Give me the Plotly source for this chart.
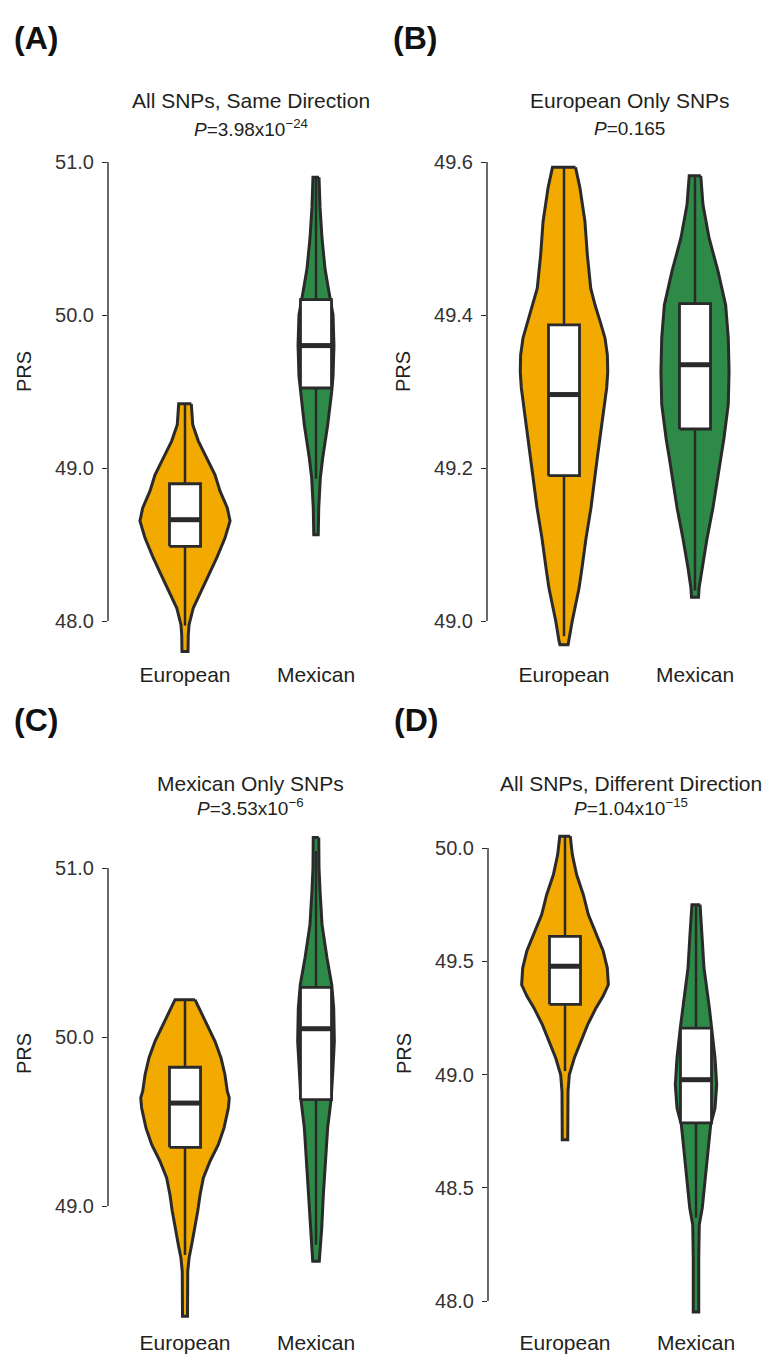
import plotly.graph_objects as go

# ---------------- data ----------------
groups = ["European", "Mexican"]

panel_letters = ["(A)", "(B)", "(C)", "(D)"]
panel_titles = ["All SNPs, Same Direction", "European Only SNPs",
                "Mexican Only SNPs", "All SNPs, Different Direction"]
panel_pvalues = ["<i>P</i>=3.98x10<sup>−24</sup>", "<i>P</i>=0.165",
                 "<i>P</i>=3.53x10<sup>−6</sup>", "<i>P</i>=1.04x10<sup>−15</sup>"]
panel_ticks = [[48.0, 49.0, 50.0, 51.0],
               [49.0, 49.2, 49.4, 49.6],
               [49.0, 50.0, 51.0],
               [48.0, 48.5, 49.0, 49.5, 50.0]]

# violin outlines: PRS level and half-width (category units)
a_eur_y = [49.42, 49.283, 49.176, 49.065, 48.956, 48.85, 48.739, 48.654, 48.542, 48.412, 48.303, 48.196, 48.085, 47.976, 47.91, 47.80]
a_eur_w = [0.048, 0.059, 0.102, 0.166, 0.229, 0.267, 0.323, 0.344, 0.305, 0.242, 0.183, 0.127, 0.063, 0.031, 0.025, 0.023]
a_mex_y = [50.90, 50.70, 50.50, 50.30, 50.15, 50.00, 49.80, 49.60, 49.50, 49.28, 49.065, 48.935, 48.74, 48.564]
a_mex_w = [0.023, 0.031, 0.046, 0.069, 0.099, 0.130, 0.137, 0.130, 0.120, 0.089, 0.051, 0.033, 0.021, 0.017]

b_eur_y = [49.593, 49.566, 49.522, 49.479, 49.435, 49.413, 49.392, 49.370, 49.348, 49.326, 49.305, 49.283, 49.239, 49.213, 49.148, 49.108, 49.069, 49.043, 49.0, 48.974, 48.969]
b_eur_w = [0.088, 0.122, 0.160, 0.178, 0.204, 0.237, 0.275, 0.313, 0.331, 0.334, 0.326, 0.308, 0.275, 0.254, 0.206, 0.168, 0.137, 0.115, 0.063, 0.038, 0.031]
b_mex_y = [49.582, 49.544, 49.501, 49.457, 49.413, 49.370, 49.326, 49.283, 49.239, 49.213, 49.148, 49.108, 49.069, 49.043, 49.031]
b_mex_w = [0.044, 0.061, 0.107, 0.176, 0.234, 0.254, 0.260, 0.254, 0.221, 0.196, 0.137, 0.092, 0.053, 0.031, 0.027]

c_eur_y = [50.221, 50.073, 49.975, 49.876, 49.777, 49.679, 49.639, 49.580, 49.462, 49.363, 49.265, 49.166, 49.067, 48.969, 48.870, 48.771, 48.692, 48.614, 48.347]
c_eur_w = [0.076, 0.166, 0.229, 0.275, 0.305, 0.323, 0.338, 0.331, 0.298, 0.254, 0.191, 0.140, 0.115, 0.097, 0.076, 0.051, 0.031, 0.021, 0.019]
c_mex_y = [51.18, 51.0, 50.862, 50.665, 50.467, 50.309, 50.172, 49.975, 49.777, 49.629, 49.462, 49.265, 49.067, 48.870, 48.771, 48.673]
c_mex_w = [0.021, 0.023, 0.031, 0.046, 0.084, 0.120, 0.135, 0.140, 0.127, 0.115, 0.089, 0.071, 0.056, 0.044, 0.033, 0.025]

d_eur_y = [50.052, 49.970, 49.882, 49.794, 49.706, 49.617, 49.544, 49.470, 49.396, 49.345, 49.294, 49.220, 49.147, 49.073, 48.999, 48.926, 48.712]
d_eur_w = [0.040, 0.056, 0.089, 0.140, 0.178, 0.242, 0.292, 0.323, 0.331, 0.290, 0.237, 0.173, 0.122, 0.071, 0.033, 0.023, 0.021]
d_mex_y = [49.750, 49.617, 49.470, 49.294, 49.205, 49.073, 48.955, 48.852, 48.778, 48.705, 48.558, 48.411, 48.337, 48.190, 47.951]
d_mex_w = [0.031, 0.046, 0.061, 0.102, 0.120, 0.145, 0.158, 0.145, 0.112, 0.099, 0.076, 0.048, 0.025, 0.021, 0.021]

# box statistics: [lower whisker, Q1, median, Q3, upper whisker]
a_eur_box = [47.97, 48.488, 48.662, 48.897, 49.42]
a_mex_box = [48.93, 49.523, 49.80, 50.10, 50.90]
b_eur_box = [48.98, 49.19, 49.296, 49.387, 49.593]
b_mex_box = [49.04, 49.251, 49.335, 49.415, 49.58]
c_eur_box = [48.71, 49.347, 49.609, 49.821, 50.221]
c_mex_box = [48.77, 49.629, 50.049, 50.294, 51.10]
d_eur_box = [49.015, 49.31, 49.478, 49.61, 50.052]
d_mex_box = [48.367, 48.786, 48.977, 49.205, 49.75]

violins = [[(a_eur_y, a_eur_w, a_eur_box), (a_mex_y, a_mex_w, a_mex_box)],
           [(b_eur_y, b_eur_w, b_eur_box), (b_mex_y, b_mex_w, b_mex_box)],
           [(c_eur_y, c_eur_w, c_eur_box), (c_mex_y, c_mex_w, c_mex_box)],
           [(d_eur_y, d_eur_w, d_eur_box), (d_mex_y, d_mex_w, d_mex_box)]]

# ---------------- style / layout ----------------
W, H = 774, 1358
FONT = "Liberation Sans, Arial, Helvetica, sans-serif"
DARK = "#2a2a2a"
TXT = "#231f20"
FILLS = ["#F2A900", "#2E8B47"]
BOX_W = 0.237
UNIT_PX = 131.0          # pixels per category step
LEFT_OFF = 77.0          # axis line to first category, px

panels_geo = [
    dict(ax=100, right=380, top=140, bot=652, tv=51.0, tpx=154, ppu=153.0, ly=30, ty=93, py=120, yl=364),
    dict(ax=479, right=759, top=140, bot=652, tv=49.6, tpx=154, ppu=765.0, ly=30, ty=93, py=120, yl=364),
    dict(ax=100, right=380, top=815, bot=1320, tv=51.0, tpx=860, ppu=169.0, ly=712, ty=775, py=799, yl=1046),
    dict(ax=480, right=760, top=815, bot=1320, tv=50.0, tpx=840, ppu=226.5, ly=712, ty=775, py=799, yl=1046),
]

fig = go.Figure()
layout = dict(width=W, height=H, autosize=False, margin=dict(l=0, r=0, t=0, b=0),
              paper_bgcolor="white", plot_bgcolor="white", showlegend=False,
              font=dict(family=FONT, color=TXT))
annotations = []
shapes = []

for i, g in enumerate(panels_geo):
    sfx = "" if i == 0 else str(i + 1)
    xa, ya = "x" + sfx, "y" + sfx
    x0 = -LEFT_OFF / UNIT_PX
    x1 = x0 + (g["right"] - g["ax"]) / UNIT_PX
    y_top = g["tv"] + (g["tpx"] - g["top"]) / g["ppu"]
    y_bot = g["tv"] - (g["bot"] - g["tpx"]) / g["ppu"]
    layout["xaxis" + sfx] = dict(domain=[g["ax"] / W, g["right"] / W], range=[x0, x1],
                                 anchor=ya, showgrid=False, zeroline=False, showline=False,
                                 tickmode="array", tickvals=[0, 1], ticktext=groups,
                                 ticks="", tickfont=dict(size=21, color=TXT, family=FONT),
                                 fixedrange=True)
    layout["yaxis" + sfx] = dict(domain=[1 - g["bot"] / H, 1 - g["top"] / H], range=[y_bot, y_top],
                                 anchor=xa, showgrid=False, zeroline=False, showline=False,
                                 tickmode="array", tickvals=panel_ticks[i],
                                 ticktext=["%.1f" % t for t in panel_ticks[i]],
                                 ticks="outside", ticklen=5, tickwidth=1.4, tickcolor=DARK,
                                 ticklabelstandoff=4,
                                 tickfont=dict(size=20, color="#333333", family=FONT),
                                 fixedrange=True)
    shapes.append(dict(type="line", xref=xa + " domain", yref=ya, x0=0, x1=0,
                       y0=min(panel_ticks[i]), y1=max(panel_ticks[i]),
                       line=dict(color=DARK, width=1.4)))

    for k, (vy, vw, bx) in enumerate(violins[i]):
        # violin body
        xs = [k + w for w in vw] + [k - w for w in reversed(vw)]
        ys = list(vy) + list(reversed(vy))
        xs.append(xs[0]); ys.append(ys[0])
        fig.add_trace(go.Scatter(x=xs, y=ys, xaxis=xa, yaxis=ya, mode="lines",
                                 fill="toself", fillcolor=FILLS[k],
                                 line=dict(color=DARK, width=3), hoverinfo="skip"))
        # whisker
        fig.add_trace(go.Scatter(x=[k, k], y=[bx[0], bx[4]], xaxis=xa, yaxis=ya, mode="lines",
                                 line=dict(color=DARK, width=2.5), hoverinfo="skip"))
        # box (Q1..Q3)
        hw = BOX_W / 2
        fig.add_trace(go.Scatter(x=[k - hw, k + hw, k + hw, k - hw, k - hw],
                                 y=[bx[1], bx[1], bx[3], bx[3], bx[1]],
                                 xaxis=xa, yaxis=ya, mode="lines", fill="toself",
                                 fillcolor="white", line=dict(color=DARK, width=2.8),
                                 hoverinfo="skip"))
        # median
        fig.add_trace(go.Scatter(x=[k - hw, k + hw], y=[bx[2], bx[2]],
                                 xaxis=xa, yaxis=ya, mode="lines",
                                 line=dict(color=DARK, width=5), hoverinfo="skip"))

    annotations.append(dict(text="<b>" + panel_letters[i] + "</b>", xref="paper", yref="paper",
                            x=(g["ax"] - 96) / W, y=1 - g["ly"] / H, xanchor="left", yanchor="middle",
                            showarrow=False, font=dict(size=32, color="#111111", family=FONT)))
    annotations.append(dict(text=panel_titles[i], xref=xa, yref="paper", x=0.5,
                            y=1 - g["ty"] / H, xanchor="center", yanchor="middle",
                            showarrow=False, font=dict(size=21, color=TXT, family=FONT)))
    annotations.append(dict(text=panel_pvalues[i], xref=xa, yref="paper", x=0.5,
                            y=1 - g["py"] / H, xanchor="center", yanchor="middle",
                            showarrow=False, font=dict(size=19, color=TXT, family=FONT)))
    annotations.append(dict(text="PRS", xref="paper", yref="paper", x=(g["ax"] - 84) / W,
                            y=1 - g["yl"] / H, xanchor="center", yanchor="middle", textangle=-90,
                            showarrow=False, font=dict(size=20, color=TXT, family=FONT)))

layout["annotations"] = annotations
layout["shapes"] = shapes
fig.update_layout(**layout)
fig.write_html("out.html")
